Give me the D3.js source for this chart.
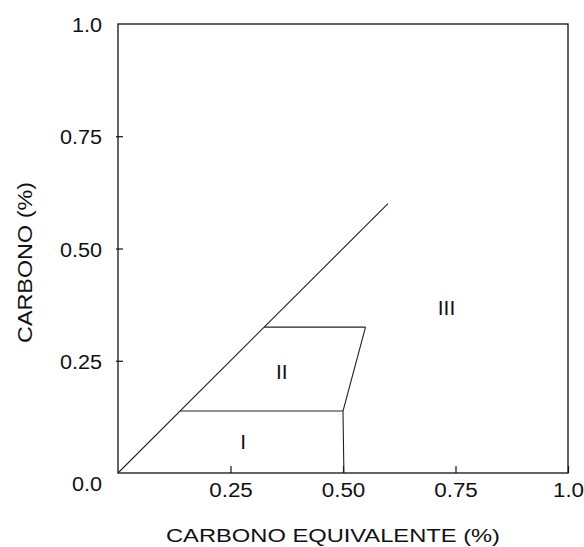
<!DOCTYPE html>
<html>
<head>
<meta charset="utf-8">
<script src="https://cdn.jsdelivr.net/npm/d3@7"></script>
<style>
  html, body { margin: 0; padding: 0; background: #fff; }
  svg { display: block; font-family: "Liberation Sans", Arial, sans-serif; }
</style>
</head>
<body>
<svg id="chart" width="584" height="547"></svg>
<script>
// ---- data ----
const xTicks = [0.25, 0.50, 0.75, 1.0];
const xTickLabels = ["0.25", "0.50", "0.75", "1.0"];
const yTicks = [0, 0.25, 0.50, 0.75, 1.0];
const yTickLabels = ["0.0", "0.25", "0.50", "0.75", "1.0"];
// boundary lines (carbono equivalente, carbono)
const diagonalLine = [[0, 0], [0.6, 0.6]];
const zoneIIBottom = [[0.138, 0.138], [0.5, 0.138]];
const zoneIITop = [[0.325, 0.325], [0.55, 0.325]];
const zoneIIRight = [[0.55, 0.325], [0.5, 0.138], [0.502, 0]];
const zoneNames = ["I", "II", "III"];
const zoneX = [0.278, 0.364, 0.73];
const zoneY = [0.071, 0.227, 0.369];
const xTitle = "CARBONO EQUIVALENTE (%)";
const yTitle = "CARBONO (%)";

(function () {
// ---- layout ----
const svg = d3.select("#chart");
const mLeft = 118, mRight = 568, mTop = 24, mBottom = 473;
const x = d3.scaleLinear().domain([0, 1]).range([mLeft, mRight]);
const y = d3.scaleLinear().domain([0, 1]).range([mBottom, mTop]);

function stretch(sel, k) {
  sel.each(function () {
    const w = this.getComputedTextLength();
    d3.select(this).attr("textLength", w * k).attr("lengthAdjust", "spacingAndGlyphs");
  });
}

// frame
svg.append("rect")
  .attr("x", x(0)).attr("y", y(1))
  .attr("width", x(1) - x(0)).attr("height", y(0) - y(1))
  .attr("fill", "none").attr("stroke", "#111").attr("stroke-width", 1.3);

// x axis
const xAxis = svg.append("g")
  .attr("transform", `translate(0,${mBottom})`)
  .call(d3.axisBottom(x).tickValues(xTicks)
    .tickFormat((d, i) => xTickLabels[i])
    .tickSize(-7).tickPadding(10));
xAxis.select(".domain").remove();
xAxis.selectAll("line").attr("stroke", "#111").attr("stroke-width", 1.2);
xAxis.selectAll("text").attr("font-size", 20).attr("fill", "#111")
  .attr("font-family", "Liberation Sans, Arial, sans-serif")
  .call(stretch, 1.12);

// y axis
const yAxis = svg.append("g")
  .attr("transform", `translate(${mLeft},0)`)
  .call(d3.axisLeft(y).tickValues(yTicks)
    .tickFormat((d, i) => yTickLabels[i])
    .tickSize(0).tickPadding(16));
yAxis.select(".domain").remove();
yAxis.selectAll(".tick line")
  .attr("x1", -2).attr("x2", 5)
  .attr("stroke", (d) => (d > 0 && d < 1) ? "#111" : "none")
  .attr("stroke-width", 1.2);
yAxis.selectAll("text").attr("font-size", 20).attr("fill", "#111")
  .attr("font-family", "Liberation Sans, Arial, sans-serif")
  .attr("dy", (d) => d === 0 ? "0.85em" : "0.38em")
  .call(stretch, 1.08);

// boundary lines
const line = d3.line().x(d => x(d[0])).y(d => y(d[1]));
[diagonalLine, zoneIIBottom, zoneIITop, zoneIIRight].forEach(seg => {
  svg.append("path").attr("d", line(seg))
    .attr("fill", "none").attr("stroke", "#222").attr("stroke-width", 1.1);
});

// zone labels
svg.selectAll(".zone").data(zoneNames).enter().append("text")
  .attr("class", "zone")
  .attr("x", (d, i) => x(zoneX[i]))
  .attr("y", (d, i) => y(zoneY[i]))
  .attr("dy", "0.36em")
  .attr("text-anchor", "middle")
  .attr("font-size", 21).attr("fill", "#111")
  .text(d => d);

// axis titles
svg.append("text")
  .attr("x", 333).attr("y", 541.5)
  .attr("text-anchor", "middle")
  .attr("font-size", 19).attr("fill", "#111")
  .attr("textLength", 334).attr("lengthAdjust", "spacingAndGlyphs")
  .text(xTitle);

svg.append("text")
  .attr("transform", "translate(32,262.5) rotate(-90)")
  .attr("text-anchor", "middle")
  .attr("font-size", 20).attr("fill", "#111")
  .attr("textLength", 161).attr("lengthAdjust", "spacingAndGlyphs")
  .text(yTitle);
})();
</script>
</body>
</html>
